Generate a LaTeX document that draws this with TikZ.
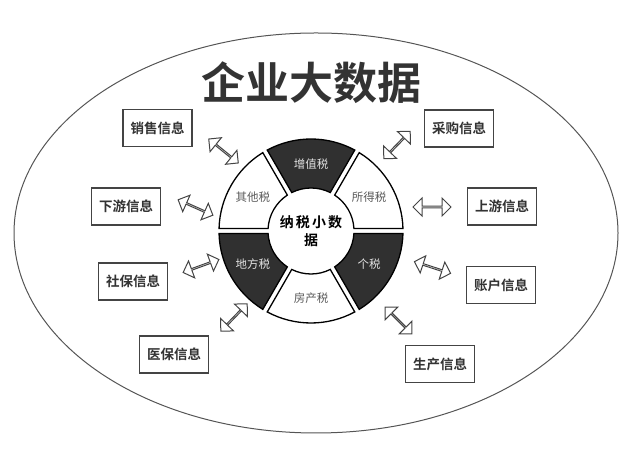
\documentclass[tikz,border=0pt]{standalone}
\usepackage{fontspec}
\setmainfont[BoldFont={Noto Sans CJK SC Bold}]{Noto Sans CJK SC}
\usetikzlibrary{shapes.geometric,shapes.arrows}

\definecolor{inkgray}{HTML}{333333}
\definecolor{segdark}{HTML}{303030}
\definecolor{boxline}{HTML}{444444}
\definecolor{ringline}{HTML}{555555}
\definecolor{textgray}{HTML}{5A5A5A}
\definecolor{textlight}{HTML}{E2E2E2}

\begin{document}
\begin{tikzpicture}[x=1pt,y=1pt,
    info/.style={draw=boxline,line width=1.2pt,fill=white,minimum width=69pt,
      minimum height=37pt,inner sep=0pt,text=inkgray,
      font=\bfseries\fontsize{13.5}{16}\selectfont},
    darr/.style={double arrow,draw=boxline,line width=1pt,fill=white,
      minimum height=38pt,minimum width=18pt,double arrow head extend=5pt,inner sep=0pt},
    segw/.style={draw=black,line width=1.3pt,fill=white},
    segd/.style={draw=black,line width=1.3pt,fill=segdark},
    labw/.style={text=textgray,font=\fontsize{11.5}{13}\selectfont},
    labd/.style={text=textlight,font=\fontsize{11.5}{13}\selectfont}]
      \useasboundingbox (0,0) rectangle (636,454);
      \node[draw=ringline,line width=1pt,ellipse,minimum width=604pt,minimum height=400pt] (frame) at (316,221) {};
      \node[text=inkgray,font=\bfseries\fontsize{44}{48}\selectfont] (title) at (311.5,371) {企业大数据};
      % tax wheel
      \coordinate (w) at (311,223);
      \foreach \a/\txt/\sty/\lab in {0/所得税/segw/labw,60/增值税/segd/labd,120/其他税/segw/labw,
          180/地方税/segd/labd,240/房产税/segw/labw,300/个税/segd/labd} {
        \draw[\sty] ([shift={(\a+1.6:92)}]w) arc[start angle=\a+1.6,end angle=\a+58.4,radius=92]
          -- ([shift={(\a+56.6:43)}]w) arc[start angle=\a+56.6,end angle=\a+3.4,radius=43] -- cycle;
        \node[\lab] (t\a) at ([shift={(\a+30:67)}]w) {\txt};
      }
      \node[align=center,text=black,font=\bfseries\fontsize{14}{18}\selectfont\addfontfeature{LetterSpace=15}] (core) at (w) {纳税小数\\据};
      % info boxes
      \node[info] (xs) at (157.5,326) {销售信息};
      \node[info] (xy) at (126,247.5) {下游信息};
      \node[info] (sb) at (133,172.5) {社保信息};
      \node[info] (yb) at (174,99.5) {医保信息};
      \node[info] (cg) at (459,325.5) {采购信息};
      \node[info] (sy) at (502,247.5) {上游信息};
      \node[info] (zh) at (501,169) {账户信息};
      \node[info] (sc) at (440,90) {生产信息};
      % double arrows
      \node[darr,rotate=-39] (axs) at (223.5,303) {};
      \node[darr,rotate=-24] (axy) at (195.5,246.5) {};
      \node[darr,rotate=20] (asb) at (201,188) {};
      \node[darr,rotate=46] (ayb) at (234,136.5) {};
      \node[darr,rotate=46] (acg) at (397,309) {};
      \node[darr] (asy) at (432,247) {};
      \node[darr,rotate=-18] (azh) at (432.5,186.5) {};
      \node[darr,rotate=-45] (asc) at (398.5,133.5) {};
    \end{tikzpicture}
\end{document}
